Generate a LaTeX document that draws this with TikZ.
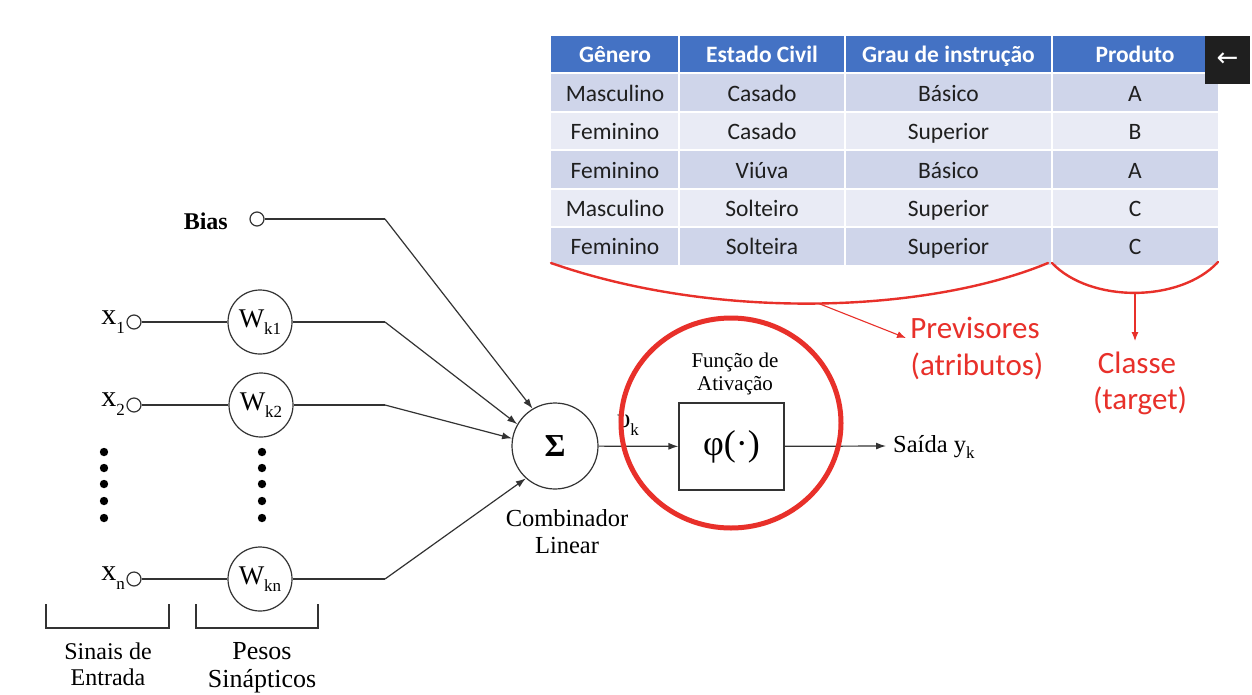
\documentclass[tikz,border=0pt]{standalone}
\usepackage{fontspec}
\setmainfont{Liberation Serif}
\newfontfamily\calfont{Carlito}
\newfontfamily\symfont{DejaVu Sans}
\usetikzlibrary{arrows.meta,calc}
\definecolor{hdr}{HTML}{4472C4}
\definecolor{rowa}{HTML}{CFD5EA}
\definecolor{rowb}{HTML}{E9EBF5}
\definecolor{annot}{HTML}{E8302A}
\definecolor{ink}{HTML}{333333}
\newcommand\lowsub[1]{\raisebox{-0.28em}{\fontsize{17}{17}\selectfont #1}}
\newcommand\fs[1]{\fontsize{#1}{#1}\selectfont}
\newcommand\fsl[2]{\fontsize{#1}{#2}\selectfont}
\begin{document}
\begin{tikzpicture}[x=1pt,y=-1pt,
  celltext/.style={font=\calfont\fs{23.5}, text=black!88, inner sep=0pt, text height=15pt, text depth=0pt},
  hdrtext/.style={font=\calfont\bfseries\fs{23.5}, text=white, inner sep=0pt, text height=15pt, text depth=0pt},
  redtext/.style={font=\calfont\fs{31}, text=annot, inner sep=0pt},
  redline/.style={draw=annot, line width=2.4, line cap=round},
  redarrow/.style={draw=annot, line width=1.1, -{Latex[length=9,width=7]}},
  conn/.style={draw=ink, line width=1.2},
  arr/.style={-{Latex[length=10,width=7]}},
  inp/.style={circle, draw=ink, line width=1.2, minimum size=14, inner sep=0pt},
  wcirc/.style={circle, draw=ink, line width=1.2, minimum size=64, inner sep=0pt, font=\fs{27}},
  serif/.style={font=\fs{24}, inner sep=0pt},
  lineup/.style={inner sep=0pt, anchor=base, text height=0.68em, text depth=0.1em}
]
\useasboundingbox[fill=white] (0,0) rectangle (1252,694);

% ---------- table ----------
\fill[hdr] (551,36) rectangle (1218,73);
\foreach \ya/\yb/\fc in {73/112/rowa,112/150/rowb,150/189/rowa,189/227/rowb,227/265/rowa}
  \fill[\fc] (551,\ya) rectangle (1218,\yb);
\node[hdrtext] (h1) at (615,55) {Gênero};
\node[hdrtext] (h2) at (762,55) {Estado Civil};
\node[hdrtext] (h3) at (948.5,55) {Grau de instrução};
\node[hdrtext] (h4) at (1135,55) {Produto};
\foreach \r/\y/\a/\b/\c/\d in {1/94/Masculino/Casado/Básico/A,
                                2/132/Feminino/Casado/Superior/B,
                                3/170.5/Feminino/Viúva/Básico/A,
                                4/209/Masculino/Solteiro/Superior/C,
                                5/247/Feminino/Solteira/Superior/C}{
  \node[celltext] (c\r a) at (615,\y) {\a};
  \node[celltext] (c\r b) at (762,\y) {\b};
  \node[celltext] (c\r c) at (948.5,\y) {\c};
  \node[celltext] (c\r d) at (1135,\y) {\d};
}
\foreach \x in {679,845,1052} \draw[white, line width=1.6] (\x,36) -- (\x,265);
\foreach \y in {73,112,150,189,227} \draw[white, line width=1.6] (551,\y) -- (1218,\y);

% back button
\node[fill=black!88, minimum width=45, minimum height=48, inner sep=0pt,
      text=white, font=\symfont\fs{26}] (btn) at (1227.5,60) {←};

% ---------- red annotations ----------
\draw[redline] (551,263) .. controls (720,322) and (930,312) .. (1048,263)
   coordinate[pos=0.5] (pv);
\draw[redline] (1052,263) .. controls (1090,303) and (1180,303) .. (1218,262)
   coordinate[pos=0.5] (cl);
\coordinate (pvend) at (906,338);
\coordinate (clend) at (1135,341);
\draw[redarrow] (pv) -- (pvend);
\draw[redarrow] (cl) -- (clend);
\node[redtext] (prev) at (975,328) {Previsores};
\node[redtext] (atr) at (977,366) {(atributos)};
\node[redtext] (cls) at (1137,363) {Classe};
\node[redtext] (tgt) at (1140,401) {(target)};

% ---------- neuron ----------
\node[inp] (bias) at (257,219) {};
\node[serif, font=\bfseries\fs{24}, anchor=east] (biaslbl) at (228,221) {Bias};
\node[inp] (x1) at (134,322) {};
\node[inp] (x2) at (134,405) {};
\node[inp] (xn) at (134,579) {};
\node[serif, font=\fs{30}, anchor=east] (x1l) at (125,322) {x\lowsub{1}};
\node[serif, font=\fs{30}, anchor=east] (x2l) at (125,404) {x\lowsub{2}};
\node[serif, font=\fs{30}, anchor=east] (xnl) at (125,578) {x\lowsub{n}};

\node[wcirc] (w1) at (260,322) {W\lowsub{k1}};
\node[wcirc] (w2) at (261,405) {W\lowsub{k2}};
\node[wcirc] (wn) at (260,579) {W\lowsub{kn}};

\node[circle, draw=ink, line width=1.2, minimum size=86, inner sep=0pt,
      font=\bfseries\fs{32}] (s) at (555,446) {Σ};
\node[lineup, font=\fs{24.5}] (comb1) at (567,526) {Combinador};
\node[lineup, font=\fs{24.5}] (comb2) at (567,553) {Linear};

\coordinate (k0) at (385,219);
\coordinate (k1) at (385,322);
\coordinate (k2) at (385,405);
\coordinate (kn) at (385,579);
\draw[conn] (bias) -- (k0);
\draw[conn, arr] (k0) -- (s.121);
\draw[conn] (x1) -- (w1);
\draw[conn] (w1) -- (k1);
\draw[conn, arr] (k1) -- (s.150);
\draw[conn] (x2) -- (w2);
\draw[conn] (w2) -- (k2);
\draw[conn, arr] (k2) -- (s.170);
\draw[conn] (xn) -- (wn);
\draw[conn] (wn) -- (kn);
\draw[conn, arr] (kn) -- (s.228);

\foreach \y in {452,468,484,501,518} {
  \fill[black] (104,\y) circle (4.2);
  \fill[black] (262,\y) circle (4.2);
}

\draw[conn] (46,604) |- (169,628) -- (169,604);
\draw[conn] (196,604) |- (318,628) -- (318,604);
\node[lineup, font=\fs{24}] (sin1) at (108,659) {Sinais de};
\node[lineup, font=\fs{24}] (sin2) at (108,685) {Entrada};
\node[lineup, font=\fs{26}] (pes1) at (262,659) {Pesos};
\node[lineup, font=\fs{26}] (pes2) at (262,687) {Sinápticos};

\node[draw=ink, line width=1.2, minimum width=105, minimum height=87, inner sep=0pt,
      font=\fs{36}] (phi) at (731.5,446.5) {φ(·)};
\node[lineup, font=\fs{21}] (func1) at (735,367) {Função de};
\node[lineup, font=\fs{21}] (func2) at (735,390) {Ativação};
\draw[conn, arr] (s) -- (phi);
\node[serif, font=\fs{27}] (vk) at (628,425) {υ\lowsub{k}};
\coordinate (out) at (886,446);
\draw[conn, arr] (phi) -- (out);
\node[serif, font=\fs{24.5}, anchor=west] (saida) at (893,447) {Saída y\lowsub{k}};
\draw[annot, line width=5] (731,423) ellipse [x radius=110, y radius=105];
\end{tikzpicture}
\end{document}
